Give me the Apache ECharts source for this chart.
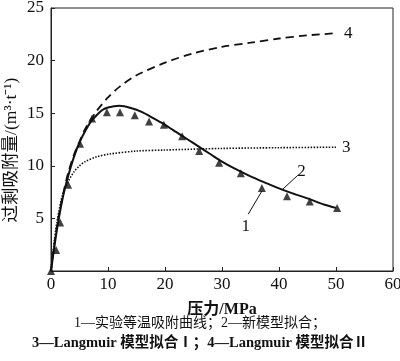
<!DOCTYPE html>
<html><head><meta charset="utf-8">
<script src="https://cdn.jsdelivr.net/npm/echarts@6/dist/echarts.min.js"></script>
<style>html,body{margin:0;padding:0;background:#fff}#c{width:400px;height:361px}</style>
</head><body><div id="c"></div>
<script>
var xTicks = [0, 10, 20, 30, 40, 50, 60];
var yTicks = [0, 5, 10, 15, 20, 25];
var expX = [0, 0.9, 1.6, 3, 5.1, 7.2, 9.8, 12.1, 14.7, 17.2, 19.8, 23, 26, 29.5, 33.3, 37, 41.4, 45.4, 50.2];
var expY = [0, 2, 4.6, 8.2, 12.1, 14.5, 15.1, 15.1, 14.8, 14.2, 13.9, 12.8, 11.4, 10.3, 9.3, 7.9, 7.1, 6.6, 6.0];
var newX = [0, 1, 2, 3, 4, 5, 6, 7, 8, 9, 10, 12, 14, 16, 18, 20, 22, 24, 26, 28, 30, 32, 35, 38, 40, 42, 45, 48, 50];
var newY = [0, 3.8, 6.8, 9.0, 10.8, 12.2, 13.3, 14.2, 14.8, 15.3, 15.55, 15.7, 15.5, 15.1, 14.5, 13.9, 13.2, 12.5, 11.8, 11.1, 10.4, 9.8, 9.0, 8.3, 7.85, 7.45, 6.9, 6.3, 6.0];
var lang1X = [0, 0.5, 1, 2, 3, 4, 5, 6, 8, 10, 15, 20, 30, 40, 50];
var lang1Y = [0, 2.5, 4.5, 7.2, 8.5, 9.4, 10.0, 10.4, 10.85, 11.1, 11.4, 11.5, 11.65, 11.72, 11.77];
var lang2X = [0, 1, 2, 3, 4, 5, 6, 8, 10, 12, 15, 20, 25, 30, 35, 40, 45, 50];
var lang2Y = [0, 4.1, 7.0, 9.3, 11.0, 12.3, 13.5, 15.2, 16.5, 17.5, 18.6, 19.8, 20.7, 21.3, 21.7, 22.1, 22.4, 22.6];
var xName = '压力/MPa';
var yName = '过剩吸附量/(m³·t⁻¹)';
var note1 = '1—实验等温吸附曲线；2—新模型拟合；';
var note2 = '3—Langmuir 模型拟合Ⅰ；4—Langmuir 模型拟合Ⅱ';

function pairs(xs, ys) { return xs.map(function (x, i) { return [x, ys[i]]; }); }

var serif = '"Liberation Serif", "Times New Roman", serif';
var cjk = '"Liberation Serif", "Noto Sans CJK SC", serif';
var chart = echarts.init(document.getElementById('c'));
chart.setOption({
  animation: false,
  backgroundColor: '#fff',
  grid: { left: 51, right: 7, top: 8, bottom: 90, show: true, borderColor: '#222', borderWidth: 1, containLabel: false, outerBoundsMode: 'none' },
  xAxis: {
    type: 'value', min: xTicks[0], max: xTicks[xTicks.length - 1], interval: 10,
    axisLine: { lineStyle: { color: '#222', width: 1 } },
    axisTick: { inside: true, length: 4, lineStyle: { color: '#222' } },
    axisLabel: { color: '#111', fontSize: 17, fontFamily: serif, margin: 5 },
    splitLine: { show: false },
    name: xName, nameLocation: 'middle', nameGap: 31,
    nameTextStyle: { color: '#111', fontSize: 16, fontWeight: 'bold', fontFamily: cjk }
  },
  yAxis: {
    type: 'value', min: yTicks[0], max: yTicks[yTicks.length - 1], interval: 5,
    axisLine: { lineStyle: { color: '#222', width: 1 } },
    axisTick: { inside: true, length: 4, lineStyle: { color: '#222' } },
    axisLabel: { color: '#111', fontSize: 17, fontFamily: serif, margin: 7, showMinLabel: false },
    splitLine: { show: false }
  },
  graphic: [
    { type: 'text', x: 11, y: 150, rotation: Math.PI / 2,
      style: { text: yName, fill: '#111', font: '17.5px ' + cjk, align: 'center', verticalAlign: 'middle' } },
    { type: 'text', left: 'center', top: 316, style: { text: note1, fill: '#111', font: '14px ' + cjk } },
    { type: 'text', left: 'center', top: 336, style: { text: note2, fill: '#111', font: 'bold 14.5px ' + cjk } }
  ],
  series: [
    {
      type: 'line', data: pairs(lang2X, lang2Y), smooth: 0.3, symbol: 'none',
      lineStyle: { color: '#111', width: 1.8, type: [8, 5] },
      endLabel: { show: true, formatter: '4', color: '#111', fontSize: 17, fontFamily: serif, offset: [0, 0] }
    },
    {
      type: 'line', data: pairs(lang1X, lang1Y), smooth: 0.3, symbol: 'none',
      lineStyle: { color: '#111', width: 1.6, type: [1.5, 1.5] },
      endLabel: { show: true, formatter: '3', color: '#111', fontSize: 17, fontFamily: serif, offset: [-2, 0] }
    },
    {
      type: 'line', data: pairs(newX, newY), smooth: 0.3, symbol: 'none',
      lineStyle: { color: '#111', width: 2 },
      markLine: {
        silent: true, symbol: 'none',
        lineStyle: { color: '#111', width: 1, type: 'solid' },
        label: { show: true, position: 'end', color: '#111', fontSize: 17, fontFamily: serif, formatter: function (p) { return p.name; } },
        data: [
          [{ name: '2', coord: [40.5, 7.7] }, { coord: [43.3, 9.1] }]
        ]
      }
    },
    {
      type: 'scatter', data: pairs(expX, expY), symbol: 'triangle', symbolSize: 8,
      itemStyle: { color: '#111' },
      markLine: {
        silent: true, symbol: 'none',
        lineStyle: { color: '#111', width: 1, type: 'solid' },
        label: { show: true, position: 'end', color: '#111', fontSize: 17, fontFamily: serif, formatter: function (p) { return p.name; } },
        data: [
          [{ name: '1', coord: [37, 7.6] }, { coord: [34.6, 5.4] }]
        ]
      }
    }
  ]
});
</script></body></html>
